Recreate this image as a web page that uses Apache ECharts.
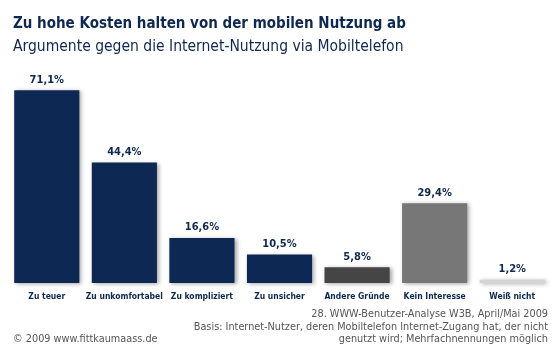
<!DOCTYPE html>
<html>
<head>
<meta charset="utf-8">
<script src="https://cdn.jsdelivr.net/npm/echarts@6/dist/echarts.min.js"></script>
<style>
  html, body { margin: 0; padding: 0; background: #fff; }
  #chart { width: 560px; height: 350px; }
</style>
</head>
<body>
<div id="chart"></div>
<script>
let categories = ['Zu teuer', 'Zu unkomfortabel', 'Zu kompliziert', 'Zu unsicher', 'Andere Gründe', 'Kein Interesse', 'Weiß nicht'];
let values = [71.1, 44.4, 16.6, 10.5, 5.8, 29.4, 1.2];
let barColors = ['#0d2852', '#0d2852', '#0d2852', '#0d2852', '#454545', '#777777', '#d4d4d4'];
let sourceLines = [
    '28. WWW-Benutzer-Analyse W3B, April/Mai 2009',
    'Basis: Internet-Nutzer, deren Mobiltelefon Internet-Zugang hat, der nicht',
    'genutzt wird; Mehrfachnennungen möglich'
];

window.onload = function () {
    let navy = '#0d2852';
    let cond = '"DejaVu Sans Condensed", sans-serif';
    let chart = echarts.init(document.getElementById('chart'));
    let graphics = sourceLines.map((t, i) => ({
        type: 'text', right: 12, top: 309 + i * 12.5,
        style: { text: t, fill: '#555', font: '10.8px ' + cond }
    }));
    graphics.push({
        type: 'text', left: 13, top: 334,
        style: { text: '© 2009 www.fittkaumaass.de', fill: '#555', font: '10.8px ' + cond }
    });
    let option = {
        animation: false,
        title: [
            {
                text: 'Zu hohe Kosten halten von der mobilen Nutzung ab',
                left: 8, top: 12,
                textStyle: { fontFamily: cond, fontWeight: 'bold', fontSize: 15, color: navy }
            },
            {
                text: 'Argumente gegen die Internet-Nutzung via Mobiltelefon',
                left: 8, top: 34,
                textStyle: { fontFamily: cond, fontWeight: 'normal', fontSize: 15.5, color: navy }
            }
        ],
        graphic: graphics,
        grid: { left: 8, right: 9, top: 66, bottom: 67 },
        xAxis: {
            type: 'category',
            data: categories,
            axisLine: { show: false },
            axisTick: { show: false },
            axisLabel: { interval: 0, margin: 9, color: navy, fontFamily: cond, fontWeight: 'bold', fontSize: 8.5 }
        },
        yAxis: {
            type: 'value', min: 0, max: 80,
            show: false
        },
        series: [
            {
                type: 'bar',
                barWidth: '84%',
                data: values.map((v, i) => ({
                    value: v,
                    itemStyle: { color: barColors[i] }
                })),
                itemStyle: {
                    shadowColor: 'rgba(0,0,0,0.35)', shadowBlur: 4, shadowOffsetX: 2, shadowOffsetY: 1
                },
                label: {
                    show: true, position: 'top', distance: 5,
                    formatter: p => p.value.toFixed(1).replace('.', ',') + '%',
                    color: navy, fontFamily: cond, fontWeight: 'bold', fontSize: 11
                }
            }
        ]
    };
    chart.setOption(option);
}
</script>
</body>
</html>
